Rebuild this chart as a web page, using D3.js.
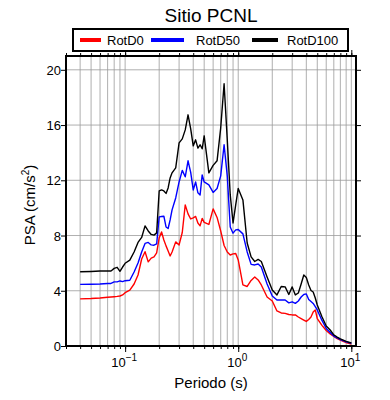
<!DOCTYPE html>
<html lang="es">
<head>
<meta charset="UTF-8">
<title>Sitio PCNL</title>
<script src="https://d3js.org/d3.v7.min.js"></script>
<style>
  body { margin: 0; background: #fff; }
  svg { display: block; font-family: "Liberation Sans", Arial, Helvetica, sans-serif; }
</style>
</head>
<body>
<svg width="390" height="400"></svg>
<script>
// Periodos (s)
const periods = [0.04, 0.05, 0.06, 0.07, 0.075, 0.08, 0.085, 0.09, 0.095, 0.1,
  0.11, 0.12, 0.13, 0.14, 0.15, 0.16, 0.17, 0.18, 0.19, 0.2,
  0.21, 0.22, 0.23, 0.24, 0.25, 0.26, 0.28, 0.30, 0.32, 0.34,
  0.36, 0.38, 0.40, 0.42, 0.44, 0.46, 0.48, 0.50, 0.55, 0.60,
  0.65, 0.70, 0.75, 0.80, 0.85, 0.90, 0.95, 1.0, 1.1, 1.2,
  1.3, 1.4, 1.5, 1.6, 1.8, 2.0, 2.2, 2.4, 2.6, 2.8,
  3.0, 3.2, 3.4, 3.6, 3.8, 4.0, 4.2, 4.4, 4.6, 4.8,
  5.0, 5.5, 6.0, 6.5, 7.0, 7.5, 8.0, 9.0, 10.0];

const rotD0 = [3.41, 3.44, 3.48, 3.53, 3.55, 3.57, 3.59, 3.62, 3.70, 3.86,
  4.04, 4.49, 5.14, 6.30, 6.83, 6.09, 6.36, 6.45, 6.74, 7.83,
  8.26, 7.68, 7.25, 6.88, 6.52, 6.81, 7.54, 7.32, 8.22, 10.22,
  9.57, 9.20, 9.28, 9.38, 8.91, 8.70, 9.24, 8.95, 8.80, 9.93,
  9.31, 8.33, 7.28, 6.81, 6.59, 6.67, 6.70, 6.23, 4.42, 4.31,
  4.75, 5.00, 4.78, 4.42, 3.55, 3.26, 2.54, 2.39, 2.36, 2.28,
  2.25, 2.25, 2.10, 1.99, 1.88, 1.78, 1.92, 2.10, 2.46, 2.61,
  1.99, 1.49, 1.12, 0.87, 0.69, 0.54, 0.43, 0.25, 0.14];

const rotD50 = [4.46, 4.47, 4.49, 4.53, 4.53, 4.64, 4.64, 4.71, 4.66, 4.73,
  4.76, 5.36, 6.01, 6.81, 7.43, 7.50, 7.32, 7.30, 7.39, 9.35,
  9.38, 9.40, 8.62, 8.51, 9.13, 9.86, 10.72, 11.88, 12.72, 12.25,
  13.41, 12.57, 11.30, 11.88, 11.09, 10.94, 12.39, 11.88, 11.67, 11.12,
  11.41, 12.32, 14.57, 12.32, 8.62, 8.17, 8.41, 8.44, 8.12, 6.81,
  5.91, 5.87, 5.94, 5.72, 4.49, 3.62, 3.33, 3.33, 3.33, 3.12,
  3.20, 3.09, 3.26, 3.55, 3.73, 3.77, 3.37, 3.22, 3.08, 2.85,
  2.61, 1.85, 1.27, 0.98, 0.72, 0.58, 0.47, 0.30, 0.20];

const rotD100 = [5.38, 5.40, 5.43, 5.43, 5.43, 5.62, 5.70, 5.41, 5.72, 5.99,
  6.22, 6.81, 7.50, 7.86, 8.70, 8.33, 8.08, 8.03, 8.19, 11.23,
  11.30, 11.23, 11.05, 11.45, 12.17, 12.54, 12.90, 14.71, 15.00, 15.65,
  16.74, 15.72, 14.49, 14.93, 14.33, 14.57, 14.28, 15.22, 12.54, 13.08,
  13.41, 15.80, 18.99, 14.93, 10.94, 8.91, 10.22, 11.41, 10.58, 7.46,
  6.45, 6.12, 6.27, 6.12, 5.00, 4.06, 3.70, 4.31, 4.28, 3.73,
  4.28, 3.70, 3.84, 4.49, 5.14, 4.96, 4.42, 4.02, 3.91, 3.48,
  2.97, 2.12, 1.45, 1.16, 0.80, 0.65, 0.52, 0.33, 0.22];

const seriesNames = ["RotD0", "RotD50", "RotD100"];
const seriesColors = ["#ff0000", "#0000ff", "#000000"];
const yTicks = [0, 4, 8, 12, 16, 20];
const xDecades = [0.1, 1, 10];
const xExponents = ["\u22121", "0", "1"];

const svg = d3.select("svg");
const mLeft = 66, mRight = 356, mTop = 56, mBottom = 346;

const x = d3.scaleLog().domain([0.03, 11]).range([mLeft, mRight]);
const y = d3.scaleLinear().domain([0, 21]).range([mBottom, mTop]);

const minorX = x.ticks().filter(t => t >= 0.03 && t <= 11);

// rejilla
const grid = svg.append("g").attr("stroke", "#9a9a9a").attr("stroke-width", 0.8);
grid.selectAll("line.v").data(minorX).enter().append("line")
  .attr("x1", d => x(d)).attr("x2", d => x(d))
  .attr("y1", mTop).attr("y2", mBottom);
grid.selectAll("line.h").data(yTicks.filter(d => d > 0)).enter().append("line")
  .attr("x1", mLeft).attr("x2", mRight)
  .attr("y1", d => y(d)).attr("y2", d => y(d));

// curvas
const line = d3.line().x(d => x(d[0])).y(d => y(d[1]));
[rotD0, rotD50, rotD100].forEach((vals, i) => {
  svg.append("path")
    .datum(periods.map((p, j) => [p, vals[j]]))
    .attr("fill", "none")
    .attr("stroke", seriesColors[i])
    .attr("stroke-width", 1.4)
    .attr("stroke-linejoin", "round")
    .attr("d", line);
});

// ejes
function styleAxis(g) {
  g.select(".domain").remove();
  g.selectAll("line").attr("stroke", "#000").attr("stroke-width", 1);
  g.selectAll("text").remove();
}
svg.append("g").attr("transform", `translate(0,${mBottom})`)
  .call(d3.axisBottom(x).tickValues(minorX).tickSize(3)).call(styleAxis);
svg.append("g").attr("transform", `translate(0,${mBottom})`)
  .call(d3.axisBottom(x).tickValues(xDecades).tickSize(6)).call(styleAxis);
svg.append("g").attr("transform", `translate(0,${mTop})`)
  .call(d3.axisTop(x).tickValues(minorX).tickSize(3)).call(styleAxis);
svg.append("g").attr("transform", `translate(0,${mTop})`)
  .call(d3.axisTop(x).tickValues(xDecades).tickSize(6)).call(styleAxis);
svg.append("g").attr("transform", `translate(${mLeft},0)`)
  .call(d3.axisLeft(y).tickValues(yTicks).tickSize(5)).call(styleAxis);
svg.append("g").attr("transform", `translate(${mRight},0)`)
  .call(d3.axisRight(y).tickValues(yTicks).tickSize(5)).call(styleAxis);

// marco
svg.append("rect")
  .attr("x", mLeft).attr("y", mTop)
  .attr("width", mRight - mLeft).attr("height", mBottom - mTop)
  .attr("fill", "none").attr("stroke", "#000").attr("stroke-width", 2);

// etiquetas
svg.selectAll("text.ytick").data(yTicks).enter().append("text")
  .attr("x", mLeft - 5).attr("y", d => y(d) + 5)
  .attr("text-anchor", "end").attr("font-size", 13).text(d => d);

xDecades.forEach((d, i) => {
  const t = svg.append("text")
    .attr("x", x(d) - 1).attr("y", mBottom + 21)
    .attr("text-anchor", "middle").attr("font-size", 13);
  t.append("tspan").text("10");
  t.append("tspan").attr("dy", -6).attr("font-size", 10).text(xExponents[i]);
});

svg.append("text").attr("x", (mLeft + mRight) / 2).attr("y", 388)
  .attr("text-anchor", "middle").attr("font-size", 15).text("Periodo (s)");

const yl = svg.append("text")
  .attr("transform", `translate(35,${(mTop + mBottom) / 2 + 4}) rotate(-90)`)
  .attr("text-anchor", "middle").attr("font-size", 15);
yl.append("tspan").text("PSA (cm/s");
yl.append("tspan").attr("dy", -6).attr("font-size", 10).text("2");
yl.append("tspan").attr("dy", 6).text(")");

svg.append("text").attr("x", (mLeft + mRight) / 2).attr("y", 22)
  .attr("text-anchor", "middle").attr("font-size", 19).text("Sitio PCNL");

// leyenda
const lg = svg.append("g");
lg.append("rect").attr("x", 73).attr("y", 29).attr("width", 275).attr("height", 22)
  .attr("fill", "#fff").attr("stroke", "#000").attr("stroke-width", 2);
const legendPos = [[80, 101, 107], [151, 184, 196], [252, 278, 287]];
seriesNames.forEach((name, i) => {
  const [x1, x2, tx] = legendPos[i];
  lg.append("line").attr("x1", x1).attr("x2", x2).attr("y1", 40).attr("y2", 40)
    .attr("stroke", seriesColors[i]).attr("stroke-width", 4);
  lg.append("text").attr("x", tx).attr("y", 45).attr("font-size", 13).text(name);
});
</script>
</body>
</html>
